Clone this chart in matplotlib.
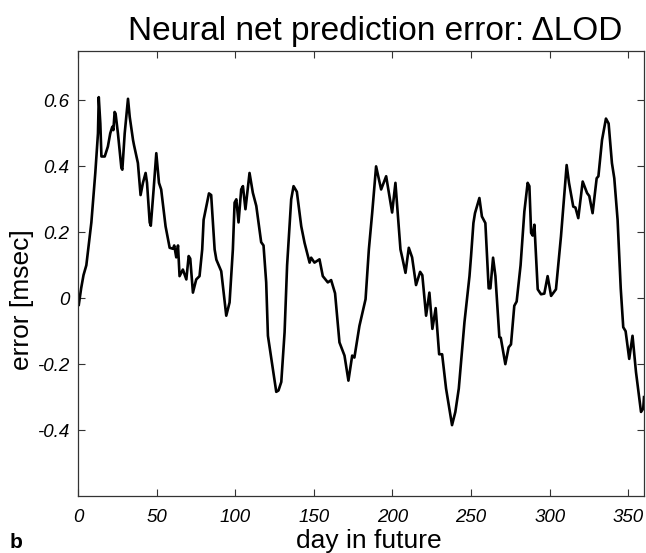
import matplotlib
matplotlib.use("Agg")
import matplotlib.pyplot as plt

# prediction error curve (day, error in msec)
days = [0.5, 2, 3.5, 5.3, 7, 8.5, 9.5, 11, 12.7, 13.2, 14.2, 14.9, 17, 19, 20.5, 21.8,
        22.5, 23.3, 23.9, 25.4, 27.6, 28.2, 29.7, 31.8, 32.9, 35, 35.6, 38.1, 39.8, 41.3,
        43, 43.9, 45.6, 46.3, 48.1, 49.8, 51.5, 52.9, 55.7, 58.3, 60.4, 61.2, 62.5, 63.6,
        64.6, 66.7, 68.9, 70.4, 71.4, 73.1, 75.2, 77.3, 79, 79.9, 83.3, 84.7, 86.9, 88,
        91.1, 94.3, 96.4, 98.5, 99.6, 100.7, 102.1, 103.8, 104.9, 106.5, 109.1, 111.2,
        113.4, 116.5, 118, 119.7, 120.8, 123.9, 126.1, 127.5, 129.3, 131.4, 133, 135.6,
        137.1, 139.2, 142, 144.1, 147.3, 148.3, 150.4, 153.6, 155.7, 158.9, 161, 163.5,
        166.3, 169.5, 172, 174.4, 175.8, 179, 182.9, 185, 187.1, 189.6, 192.8, 196,
        199.8, 201.9, 205.1, 206.4, 208.3, 210.4, 212.5, 215, 217.6, 219, 221.4, 223.5,
        225.4, 227.5, 229.7, 231.6, 234.1, 237.9, 240, 242.2, 245.8, 249, 250, 251.5,
        252.5, 255.3, 256.9, 259.1, 261.2, 262.3, 264, 265.5, 268, 268.9, 271.8, 273.9,
        275.4, 277.5, 279, 281.5, 283.9, 286, 287.1, 288.2, 289.2, 290.3, 292.4, 294.5,
        296.6, 298.7, 300.9, 304, 307.2, 310.8, 312.3, 315, 316.4, 318.2, 321, 323.8,
        325.2, 327.3, 329.9, 331, 333.3, 335.8, 337.5, 339.6, 341.1, 343.2, 345.2, 346.8,
        348.3, 350.6, 352.7, 354.9, 358.1, 359.5, 360]
error = [-0.02, 0.03, 0.07, 0.10, 0.17, 0.23, 0.29, 0.38, 0.50, 0.61, 0.53, 0.43, 0.43, 0.46,
         0.50, 0.52, 0.51, 0.565, 0.56, 0.50, 0.395, 0.39, 0.50, 0.605, 0.55, 0.48, 0.465,
         0.41, 0.313, 0.35, 0.38, 0.35, 0.23, 0.22, 0.33, 0.44, 0.35, 0.33, 0.218, 0.153,
         0.15, 0.16, 0.124, 0.16, 0.067, 0.087, 0.057, 0.128, 0.12, 0.017, 0.057, 0.067,
         0.148, 0.238, 0.318, 0.313, 0.148, 0.117, 0.082, -0.053, -0.013, 0.148, 0.29, 0.30,
         0.23, 0.33, 0.34, 0.27, 0.38, 0.32, 0.28, 0.17, 0.16, 0.048, -0.114, -0.214,
         -0.284, -0.28, -0.254, -0.103, 0.10, 0.30, 0.34, 0.323, 0.218, 0.168, 0.108,
         0.123, 0.108, 0.118, 0.067, 0.048, 0.055, 0.015, -0.134, -0.174, -0.25, -0.174,
         -0.18, -0.084, -0.003, 0.148, 0.258, 0.40, 0.33, 0.37, 0.26, 0.35, 0.148, 0.12,
         0.077, 0.153, 0.124, 0.04, 0.08, 0.07, -0.053, 0.017, -0.093, -0.03, -0.17, -0.17,
         -0.274, -0.385, -0.345, -0.274, -0.073, 0.067, 0.128, 0.228, 0.258, 0.304, 0.248,
         0.228, 0.03, 0.03, 0.123, 0.067, -0.118, -0.12, -0.2, -0.149, -0.14, -0.023, -0.01,
         0.10, 0.263, 0.35, 0.34, 0.198, 0.19, 0.223, 0.027, 0.012, 0.014, 0.067, 0.007,
         0.027, 0.188, 0.404, 0.35, 0.278, 0.275, 0.243, 0.354, 0.319, 0.31, 0.258, 0.364,
         0.37, 0.48, 0.545, 0.53, 0.41, 0.364, 0.238, 0.03, -0.088, -0.1, -0.184, -0.114,
         -0.224, -0.345, -0.335, -0.30]

xticks = [0, 50, 100, 150, 200, 250, 300, 350]
yticks = [-0.4, -0.2, 0, 0.2, 0.4, 0.6]
yticklabels = ["-0.4", "-0.2", "0", "0.2", "0.4", "0.6"]

plt.rcParams["font.family"] = ["Liberation Sans", "DejaVu Sans"]

W, H = 646, 553
fig = plt.figure(figsize=(W / 100, H / 100), dpi=100)
ax = fig.add_axes([78 / W, 1 - 496 / H, (644 - 78) / W, (496 - 51) / H])

ax.plot(days, error, color="black", linewidth=1.9)
ax.set_xlim(0, 360)
ax.set_ylim(-0.6, 0.75)
ax.set_xticks(xticks)
ax.set_xticklabels([str(t) for t in xticks], fontstyle="italic", fontsize=13.5)
ax.set_yticks(yticks)
ax.set_yticklabels(yticklabels, fontstyle="italic", fontsize=13.5)
ax.tick_params(direction="in", length=5, width=0.8, top=True, right=True,
               color="#333333")
ax.tick_params(axis="x", pad=9)
ax.tick_params(axis="y", pad=6)
for s in ax.spines.values():
    s.set_linewidth(0.9)
    s.set_color("#333333")

fig.text(375 / W, 1 - 40 / H, "Neural net prediction error: \u0394LOD",
         ha="center", va="baseline", fontsize=24)
fig.text(369 / W, 1 - 548 / H, "day in future", ha="center", va="baseline", fontsize=19)
fig.text(22 / W, 1 - 300 / H, "error [msec]", ha="center", va="center",
         rotation=90, fontsize=19)
fig.text(10 / W, 1 - 548 / H, "b", ha="left", va="baseline", fontsize=15,
         fontweight="bold")

fig.savefig("out.png", dpi=100)
